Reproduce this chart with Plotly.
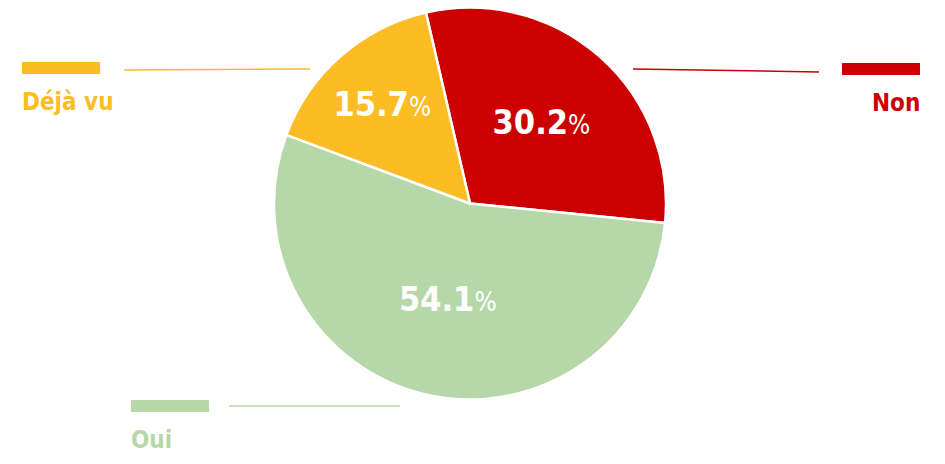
import plotly.graph_objects as go

# Data
labels = ['Non', 'Oui', 'Déjà vu']
values = [30.2, 54.1, 15.7]
colors = ['#CC0000', '#B6D7A8', '#FBBC24']

W, H = 945, 464
FONT = 'DejaVu Sans Condensed, Roboto, sans-serif'


def px(x, y):
    '''Pixel position -> paper coordinates.'''
    return x / W, 1 - y / H


fig = go.Figure()

fig.add_trace(go.Pie(
    labels=labels,
    values=values,
    sort=False,
    direction='clockwise',
    rotation=-13,
    marker=dict(colors=colors, line=dict(color='white', width=2.5)),
    texttemplate="<b>%{value:.1f}</b><span style='font-size:26px'>%</span>",
    textposition='inside',
    insidetextorientation='horizontal',
    textfont=dict(family=FONT, size=34, color='white'),
    domain=dict(x=[274 / W, 666 / W], y=[1 - 400 / H, 1 - 7 / H]),
    showlegend=False,
    hoverinfo='label+percent',
))

# legend-like labels: colour bar, leader line, name
legend_items = [
    # label, bar x0, bar x1, bar y, line x0, line x1, line y0, line y1, text x, anchor
    ('Déjà vu', 22, 100, 68, 124, 310, 70, 69, 20, 'left'),
    ('Non', 842, 920, 69, 633, 819, 69, 72, 922, 'right'),
    ('Oui', 131, 209, 406, 229, 400, 406, 406, 129, 'left'),
]
color_of = dict(zip(labels, colors))

shapes = []
annotations = []
for name, bx0, bx1, by, lx0, lx1, ly0, ly1, tx, anchor in legend_items:
    c = color_of[name]
    x0, y0 = px(bx0, by - 6)
    x1, y1 = px(bx1, by + 6)
    shapes.append(dict(type='rect', xref='paper', yref='paper',
                       x0=x0, x1=x1, y0=y1, y1=y0,
                       fillcolor=c, line=dict(width=0)))
    a0, b0 = px(lx0, ly0)
    a1, b1 = px(lx1, ly1)
    shapes.append(dict(type='line', xref='paper', yref='paper',
                       x0=a0, y0=b0, x1=a1, y1=b1,
                       line=dict(color=c, width=1.5)))
    ax_, ay_ = px(tx, by + 18)
    annotations.append(dict(text=f'<b>{name}</b>', xref='paper', yref='paper',
                            x=ax_, y=ay_, xanchor=anchor, yanchor='top',
                            showarrow=False,
                            font=dict(family=FONT, size=24, color=c)))

fig.update_layout(
    width=W, height=H,
    margin=dict(l=0, r=0, t=0, b=0),
    paper_bgcolor='white',
    plot_bgcolor='white',
    shapes=shapes,
    annotations=annotations,
)

# drop the default page margin so the figure sits at the window corner
fig.write_html('out.html', config={'displayModeBar': False},
               post_script="document.body.style.margin='0';")
